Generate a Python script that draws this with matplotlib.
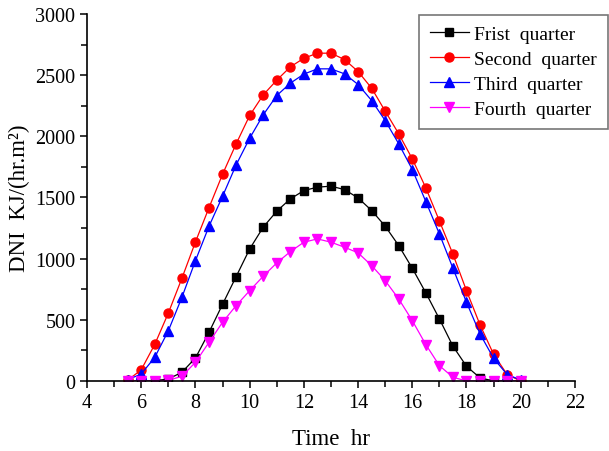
import matplotlib
matplotlib.use("Agg")
import matplotlib.pyplot as plt
from matplotlib.ticker import MultipleLocator

plt.rcParams['font.family'] = ['Liberation Serif', 'DejaVu Serif']

hours = [5.5, 6, 6.5, 7, 7.5, 8, 8.5, 9, 9.5, 10, 10.5, 11, 11.5, 12, 12.5, 13,
         13.5, 14, 14.5, 15, 15.5, 16, 16.5, 17, 17.5, 18, 18.5, 19, 19.5, 20]

first = [0, 0, 2, 16, 71, 188, 398, 627, 853, 1079, 1257, 1388, 1488, 1556, 1584, 1592,
         1564, 1496, 1393, 1265, 1106, 921, 720, 507, 284, 120, 25, 0, 0, 0]
second = [5, 92, 300, 556, 840, 1137, 1417, 1690, 1938, 2170, 2338, 2459, 2567, 2638, 2679, 2679,
          2627, 2529, 2393, 2205, 2020, 1815, 1578, 1308, 1036, 738, 458, 218, 52, 0]
third = [10, 57, 194, 411, 684, 984, 1265, 1510, 1766, 1984, 2175, 2333, 2434, 2508, 2551, 2551,
         2510, 2423, 2292, 2128, 1938, 1728, 1466, 1202, 921, 643, 384, 185, 52, 8]
fourth = [0, 0, 0, 5, 38, 153, 316, 480, 616, 738, 856, 965, 1057, 1134, 1161, 1134,
          1093, 1047, 943, 820, 670, 493, 297, 125, 30, 0, 0, 0, 0, 0]

labels = ["Frist  quarter", "Second  quarter", "Third  quarter", "Fourth  quarter"]
colors = ["black", "red", "blue", "magenta"]
markers = ["s", "o", "^", "v"]

fig = plt.figure(figsize=(6.09, 4.52), dpi=100)
ax = fig.add_axes([0.143, 0.155, 0.801, 0.812])

for ys, lab, c, m in zip([first, second, third, fourth], labels, colors, markers):
    ax.plot(hours, ys, color=c, marker=m, markersize=6.5 if m != "s" else 5.5,
            linewidth=0.9, label=lab)

ax.set_xlim(4, 22)
ax.set_ylim(0, 3000)
ax.xaxis.set_major_locator(MultipleLocator(2))
ax.xaxis.set_minor_locator(MultipleLocator(1))
ax.yaxis.set_major_locator(MultipleLocator(500))
ax.yaxis.set_minor_locator(MultipleLocator(250))
ax.spines['top'].set_visible(False)
ax.spines['right'].set_visible(False)
ax.spines['left'].set_linewidth(1.2)
ax.spines['bottom'].set_linewidth(1.2)
ax.tick_params(which='both', direction='out', width=1.1, labelsize=14.5)
ax.tick_params(which='major', length=5)
ax.tick_params(which='minor', length=4)

ax.set_xlabel("Time  hr", fontsize=16.5, labelpad=12)
ax.set_ylabel("DNI  KJ/(hr.m²)", fontsize=16.5, labelpad=4)

leg = fig.legend(loc='upper left', bbox_to_anchor=(0.688, 0.965), fontsize=14,
                 frameon=True, fancybox=False, edgecolor='#555555',
                 handlelength=2.0, handletextpad=0.3, labelspacing=0.38,
                 borderpad=0.55, borderaxespad=0)
leg.get_frame().set_linewidth(1.2)

fig.savefig("out.png", dpi=100)
